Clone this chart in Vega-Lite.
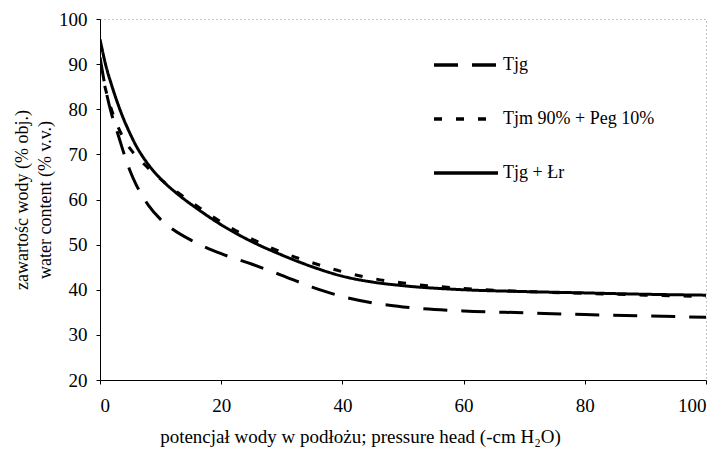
{
  "$schema": "https://vega.github.io/schema/vega-lite/v6.json",
  "width": 606,
  "height": 361,
  "autosize": {"type": "none"},
  "padding": {"left": 100, "top": 19, "right": 18, "bottom": 74},
  "background": "white",
  "config": {
    "font": "Liberation Serif",
    "view": {"stroke": "#888", "strokeDash": [1, 3], "strokeWidth": 1},
    "legend": {"labelFont": "Liberation Serif", "labelFontWeight": "normal", "labelFontSize": 18, "labelColor": "black"}
  },
  "data": {
    "values": [
      {"s": "Tjg", "x": 0, "y": 91.5}, {"s": "Tjg", "x": 1, "y": 84}, {"s": "Tjg", "x": 2, "y": 78.5},
      {"s": "Tjg", "x": 3, "y": 74.3}, {"s": "Tjg", "x": 4, "y": 70}, {"s": "Tjg", "x": 5, "y": 66.2},
      {"s": "Tjg", "x": 6, "y": 63.2}, {"s": "Tjg", "x": 7, "y": 60.8}, {"s": "Tjg", "x": 8, "y": 58.7},
      {"s": "Tjg", "x": 10, "y": 55.6}, {"s": "Tjg", "x": 12, "y": 53.4}, {"s": "Tjg", "x": 15, "y": 51},
      {"s": "Tjg", "x": 20, "y": 48}, {"s": "Tjg", "x": 25, "y": 45.7}, {"s": "Tjg", "x": 30, "y": 43.2},
      {"s": "Tjg", "x": 35, "y": 40.6}, {"s": "Tjg", "x": 40, "y": 38.5}, {"s": "Tjg", "x": 45, "y": 37.1},
      {"s": "Tjg", "x": 50, "y": 36.2}, {"s": "Tjg", "x": 60, "y": 35.3}, {"s": "Tjg", "x": 70, "y": 34.9},
      {"s": "Tjg", "x": 80, "y": 34.5}, {"s": "Tjg", "x": 90, "y": 34.2}, {"s": "Tjg", "x": 100, "y": 33.9},

      {"s": "Tjm 90% + Peg 10%", "x": 0, "y": 90}, {"s": "Tjm 90% + Peg 10%", "x": 1, "y": 84},
      {"s": "Tjm 90% + Peg 10%", "x": 2, "y": 79.5}, {"s": "Tjm 90% + Peg 10%", "x": 3, "y": 76},
      {"s": "Tjm 90% + Peg 10%", "x": 4, "y": 73.3}, {"s": "Tjm 90% + Peg 10%", "x": 5, "y": 71.2},
      {"s": "Tjm 90% + Peg 10%", "x": 6, "y": 69.6}, {"s": "Tjm 90% + Peg 10%", "x": 8, "y": 66.9},
      {"s": "Tjm 90% + Peg 10%", "x": 10, "y": 64.5}, {"s": "Tjm 90% + Peg 10%", "x": 15, "y": 59.5},
      {"s": "Tjm 90% + Peg 10%", "x": 20, "y": 55}, {"s": "Tjm 90% + Peg 10%", "x": 25, "y": 51.3},
      {"s": "Tjm 90% + Peg 10%", "x": 30, "y": 48.3}, {"s": "Tjm 90% + Peg 10%", "x": 35, "y": 46},
      {"s": "Tjm 90% + Peg 10%", "x": 40, "y": 44}, {"s": "Tjm 90% + Peg 10%", "x": 45, "y": 42.5},
      {"s": "Tjm 90% + Peg 10%", "x": 50, "y": 41.5}, {"s": "Tjm 90% + Peg 10%", "x": 60, "y": 40.3},
      {"s": "Tjm 90% + Peg 10%", "x": 70, "y": 39.6}, {"s": "Tjm 90% + Peg 10%", "x": 80, "y": 39.2},
      {"s": "Tjm 90% + Peg 10%", "x": 90, "y": 38.8}, {"s": "Tjm 90% + Peg 10%", "x": 100, "y": 38.5},

      {"s": "Tjg + Łr", "x": 0, "y": 95.5}, {"s": "Tjg + Łr", "x": 1, "y": 89.5}, {"s": "Tjg + Łr", "x": 2, "y": 85},
      {"s": "Tjg + Łr", "x": 3, "y": 81}, {"s": "Tjg + Łr", "x": 4, "y": 77.5}, {"s": "Tjg + Łr", "x": 5, "y": 74.5},
      {"s": "Tjg + Łr", "x": 6, "y": 71.8}, {"s": "Tjg + Łr", "x": 7, "y": 69.6}, {"s": "Tjg + Łr", "x": 8, "y": 67.7},
      {"s": "Tjg + Łr", "x": 10, "y": 64.6}, {"s": "Tjg + Łr", "x": 13, "y": 61}, {"s": "Tjg + Łr", "x": 16, "y": 58},
      {"s": "Tjg + Łr", "x": 20, "y": 54.4}, {"s": "Tjg + Łr", "x": 25, "y": 50.7}, {"s": "Tjg + Łr", "x": 30, "y": 47.7},
      {"s": "Tjg + Łr", "x": 35, "y": 45.1}, {"s": "Tjg + Łr", "x": 40, "y": 43}, {"s": "Tjg + Łr", "x": 45, "y": 41.7},
      {"s": "Tjg + Łr", "x": 50, "y": 40.9}, {"s": "Tjg + Łr", "x": 60, "y": 40}, {"s": "Tjg + Łr", "x": 70, "y": 39.6},
      {"s": "Tjg + Łr", "x": 80, "y": 39.3}, {"s": "Tjg + Łr", "x": 90, "y": 39}, {"s": "Tjg + Łr", "x": 100, "y": 38.8}
    ]
  },
  "mark": {"type": "line", "interpolate": "monotone", "strokeWidth": 3, "color": "black", "clip": true},
  "encoding": {
    "x": {
      "field": "x", "type": "quantitative",
      "scale": {"domain": [0, 100], "nice": false},
      "axis": {
        "values": [0, 20, 40, 60, 80, 100], "grid": false,
        "domainColor": "black", "tickColor": "black", "tickSize": 4,
        "labelFont": "Liberation Serif", "labelFontSize": 19, "labelColor": "black", "labelPadding": 12,
        "title": "potencjał wody w podłożu; pressure head (-cm H₂O)",
        "titleFont": "Liberation Serif", "titleFontSize": 19, "titleFontWeight": "normal", "titleColor": "black",
        "titlePadding": 12, "titleX": 260, "titleAlign": "center", "titleAnchor": "start"
      }
    },
    "y": {
      "field": "y", "type": "quantitative",
      "scale": {"domain": [20, 100], "nice": false, "zero": false},
      "axis": {
        "values": [20, 30, 40, 50, 60, 70, 80, 90, 100], "grid": false,
        "domainColor": "black", "tickColor": "black", "tickSize": 4,
        "labelFont": "Liberation Serif", "labelFontSize": 19, "labelColor": "black", "labelPadding": 9,
        "title": ["zawartośc wody (% obj.)", "water content (% v.v.)"],
        "titleFont": "Liberation Serif", "titleFontSize": 18, "titleFontWeight": "normal", "titleColor": "black",
        "titleLineHeight": 23, "titlePadding": 4
      }
    },
    "strokeDash": {
      "field": "s", "type": "nominal",
      "scale": {"domain": ["Tjg", "Tjm 90% + Peg 10%", "Tjg + Łr"], "range": [[24, 14], [8, 14], [1, 0]]},
      "legend": {
        "title": null, "orient": "none", "legendX": 332, "legendY": 19,
        "direction": "vertical",
        "symbolType": "stroke", "symbolSize": 4096, "symbolStrokeWidth": 3.5,
        "symbolStrokeColor": "black", "clipHeight": 54, "rowPadding": 0,
        "labelFont": "Liberation Serif", "labelFontSize": 18, "labelFontWeight": "normal", "labelColor": "black", "labelOffset": 3,
        "labelLimit": 300
      }
    }
  }
}
